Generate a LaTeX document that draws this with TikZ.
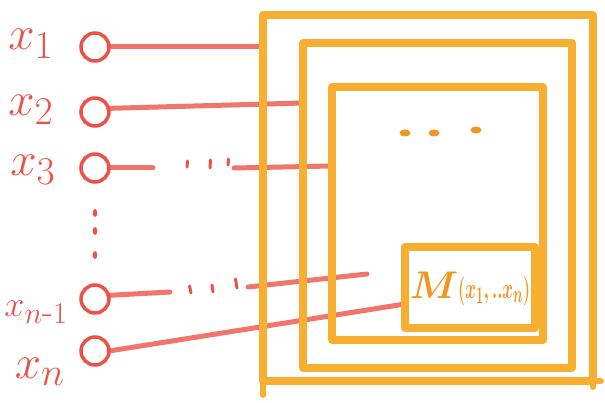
\documentclass[tikz,border=0pt]{standalone}
\usetikzlibrary{shapes.geometric}
\definecolor{pen}{RGB}{236,82,72}
\definecolor{penlight}{RGB}{240,118,108}
\definecolor{crayon}{RGB}{247,175,50}
\definecolor{crayondark}{RGB}{242,150,30}
\pgfdeclarelayer{bg}
\pgfsetlayers{bg,main}
\tikzset{
  box/.style={draw=crayon, line width=7.5pt, rectangle, inner sep=0pt, outer sep=0pt, line join=round},
  inp/.style={draw=pen, line width=3.5pt, circle, minimum size=28pt, inner sep=0pt, outer sep=0pt},
  wire/.style={draw=penlight, line width=5pt, line cap=round},
  lab/.style={text=pen, font=\Huge, inner sep=0pt},
  tick/.style={draw=pen, line width=3pt, line cap=round},
  blob/.style={fill=crayondark, draw=none, ellipse, minimum width=11pt, minimum height=7pt, inner sep=0pt},
  vdot/.style={fill=pen, draw=none, ellipse, minimum width=4.5pt, minimum height=8pt, inner sep=0pt},
}
\begin{document}
\begin{tikzpicture}[x=1pt,y=-1pt]
\useasboundingbox (0,0) rectangle (605,403);
% boxes
\node[box, minimum width=330pt, minimum height=366pt] (outer) at (428,198) {};
\node[box, minimum width=269pt, minimum height=325pt] (second) at (437.5,205.5) {};
\node[box, minimum width=211pt, minimum height=253pt] (third) at (437.5,213.5) {};
\node[box, minimum width=130pt, minimum height=81pt] (mbox) at (470,287.5) {};
\node[text=crayondark, inner sep=0pt, scale=1.55, font=\Huge\boldmath] (mlab) at (470,289)
  {$M$\scalebox{0.42}[0.75]{$(x_1,..x_n)$}};
% sketch overshoots of the outer frame
\draw[draw=crayon, line width=6pt, line cap=round] (outer.south west) -- ++(0,14);
\draw[draw=crayon, line width=6pt, line cap=round] (outer.south east) -- ++(8,0);
\draw[draw=crayon, line width=6pt, line cap=round] (outer.south east) -- ++(0,6);
% dots inside third box
\node[blob] (d1) at (405,133) {};
\node[blob] (d2) at (434,133) {};
\node[blob] (d3) at (476,130) {};
% inputs
\node[inp] (c1) at (95,47) {};
\node[inp] (c2) at (95,112) {};
\node[inp] (c3) at (95,168) {};
\node[inp] (c4) at (95,299) {};
\node[inp] (c5) at (95,351) {};
% labels
\node[lab, scale=1.9] (l1) at (31,44) {$x_1$};
\node[lab, scale=1.9] (l2) at (31,110) {$x_2$};
\node[lab, scale=1.9] (l3) at (33,170) {$x_3$};
\node[lab, scale=1.45] (l4) at (36,312) {$x_{n\mbox{-}1}$};
\node[lab, scale=1.9] (l5) at (40,372) {$x_n$};
% vertical dots
\node[vdot] (v1) at (95,213) {};
\node[vdot] (v2) at (95,231) {};
\node[vdot] (v3) at (95,255) {};
% coordinates for wire ends
\coordinate (e1) at (outer.west |- 0,47);
\coordinate (e2) at (second.west |- 0,103);
\coordinate (s3a) at (153,168);
\coordinate (s3b) at (234,168);
\coordinate (e3) at (third.west |- 0,166);
\coordinate (s4a) at (170,292);
\coordinate (s4b) at (248,287);
\coordinate (f4) at (367,274);
\coordinate (e5) at (mbox.west |- 0,304);
\begin{pgfonlayer}{bg}
\draw[wire] (c1.east) -- (e1);
\draw[wire] (c2.15) -- (e2);
\draw[wire] (c3.east) -- (s3a);
\draw[wire] (s3b) -- (e3);
\draw[wire] (c4.15) -- (s4a);
\draw[wire] (s4b) -- (f4);
\draw[wire] (c5.east) -- (e5);
\end{pgfonlayer}
% ticks of the broken wires
\coordinate (t1) at (187,167);
\coordinate (t2) at (210,168);
\coordinate (t3) at (228,165);
\draw[tick] (t1) -- ++(0.5,-6);
\draw[tick] (t2) -- ++(0.5,-8);
\draw[tick] (t3) -- ++(0.5,-6);
\coordinate (t4) at (191,293);
\coordinate (t5) at (213,292);
\coordinate (t6) at (237,288);
\draw[tick] (t4) -- ++(-1.5,-7);
\draw[tick] (t5) -- ++(-1,-7);
\draw[tick] (t6) -- ++(-1.5,-9);
\end{tikzpicture}
\end{document}
